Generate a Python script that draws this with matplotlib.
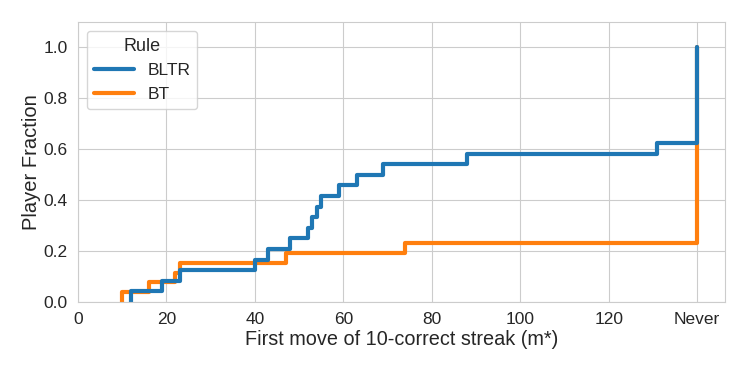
import matplotlib
matplotlib.use("Agg")
import matplotlib.pyplot as plt
import seaborn as sns
import numpy as np

# Data: first move of 10-correct streak per player; 140 = "Never"
NEVER = 140
bltr_moves = [12, 19, 23, 40, 43, 48, 52, 53, 54, 55, 59, 63, 69, 88, 131] + [NEVER] * 9
bt_moves = [10, 16, 22, 23, 47, 74] + [NEVER] * 20
rules = ["BLTR", "BT"]
xtick_vals = [0, 20, 40, 60, 80, 100, 120, 140]
xtick_labels = ["0", "20", "40", "60", "80", "100", "120", "Never"]
ytick_vals = [0.0, 0.2, 0.4, 0.6, 0.8, 1.0]

sns.set_style("whitegrid")
plt.rcParams['font.family'] = ['Liberation Sans', 'DejaVu Sans']

fig = plt.figure(figsize=(7.47, 3.74), dpi=100)
ax = fig.add_axes([78/747, 1-302/374, (725-78)/747, (302-22)/374])

colors = {"BLTR": "#1f77b4", "BT": "#ff7f0e"}
h_bt = ax.ecdf(bt_moves, color=colors["BT"], lw=3, label="BT")
h_bltr = ax.ecdf(bltr_moves, color=colors["BLTR"], lw=3, label="BLTR")

ax.set_xlim(0, 146.3)
ax.set_ylim(0, 1.1)
ax.set_xticks(xtick_vals)
ax.set_xticklabels(xtick_labels)
ax.set_yticks(ytick_vals)
ax.set_yticklabels([f"{v:.1f}" for v in ytick_vals])
ax.tick_params(labelsize=12.5, colors="#262626", pad=4)
ax.set_xlabel("First move of 10-correct streak (m*)", fontsize=14.3, color="#262626", labelpad=2)
ax.set_ylabel("Player Fraction", fontsize=14.5, color="#262626", labelpad=2)
for s in ax.spines.values():
    s.set_color("#cccccc")

leg = ax.legend(handles=[h_bltr, h_bt], labels=rules, title="Rule", loc="upper left",
                fontsize=12.5, title_fontsize=13, frameon=True, handlelength=2.3)
leg.get_title().set_color("#262626")
for t in leg.get_texts():
    t.set_color("#262626")

fig.savefig("out.png", dpi=100)
